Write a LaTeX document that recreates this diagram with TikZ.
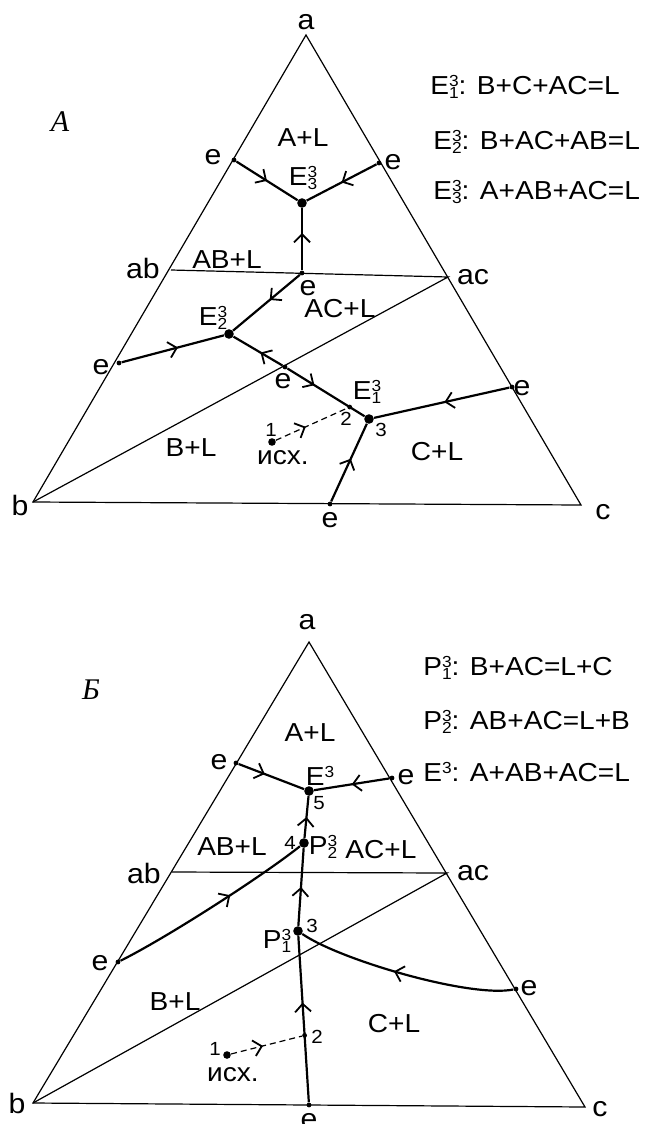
\documentclass[tikz,border=0pt]{standalone}
\usepackage{fontspec}
\setmainfont{Liberation Sans}[FakeStretch=1.08]
\newfontfamily\panelfont{Liberation Serif}
\usetikzlibrary{arrows.meta,decorations.markings,calc}
\tikzset{
  side/.style   ={line width=0.6pt},
  branch/.style ={line width=1.1pt},
  tie/.style    ={line width=0.6pt, dash pattern=on 3pt off 2pt},
  midarr/.style ={postaction={decorate}, decoration={markings,
      mark=at position #1 with {\arrow{Straight Barb[length=4pt,width=8pt,line width=0.9pt]}}}},
  midarr/.default=0.5,
  edot/.style   ={circle, fill, inner sep=0pt, minimum size=2.4pt},
  bigdot/.style ={circle, fill, inner sep=0pt, minimum size=4.8pt},
  lbl/.style    ={font=\fontsize{13}{14}\selectfont, inner sep=0pt},
  vlbl/.style   ={font=\fontsize{14}{15}\selectfont, inner sep=0pt},
  num/.style    ={font=\fontsize{9.5}{10}\selectfont, inner sep=0pt},
  leg/.style    ={font=\fontsize{13}{14}\selectfont, anchor=west, inner sep=0pt},
  panel/.style  ={font=\fontsize{15}{16}\selectfont\panelfont\itshape, inner sep=0pt},
}
\newcommand{\scrnum}{\fontsize{8}{9}\selectfont}
\newcommand{\ptsym}[3]{#1\rlap{\raisebox{4pt}{\scrnum #2}}\raisebox{-1.8pt}{\scrnum #3}}
\newcommand{\ptsup}[2]{#1\raisebox{4pt}{\scrnum #2}}

\begin{document}
\begin{tikzpicture}[x=0.5pt, y=-0.5pt]
  \useasboundingbox (0,0) rectangle (651,1124);

  % ---------- A: three eutectics ----------
  \coordinate (a1) at (306,35);
  \coordinate (b1) at (33,502);
  \coordinate (c1) at (581,505);
  \coordinate (ab1) at (171,270);
  \coordinate (ac1) at (448,277);
  \draw[side] (a1) -- (b1) -- (c1) -- cycle;
  \draw[side] (ab1) -- (ac1) -- (b1);

  \node[bigdot] (E3) at (302,203) {};
  \node[bigdot] (E2) at (229,334) {};
  \node[bigdot] (E1) at (369,419) {};
  \node[edot] (eA1) at (234,160) {};
  \node[edot] (eA2) at (379,163) {};
  \node[edot] (eA3) at (302,273) {};
  \node[edot] (eA4) at (119,363) {};
  \node[edot] (eA5) at (285,367) {};
  \node[edot] (eA6) at (512,387) {};
  \node[edot] (eA7) at (330,504) {};
  \node[edot] (ptA2) at ($(eA5)!0.77!(E1)$) {};
  \node[edot, minimum size=3.8pt] (ptA1) at (272,442) {};

  \draw[branch, midarr] (eA1) -- (E3);
  \draw[branch, midarr] (eA2) -- (E3);
  \draw[branch, midarr=0.6] (eA3) -- (E3);
  \draw[branch, midarr=0.45] (eA3) -- (E2);
  \draw[branch, midarr=0.55] (eA4) -- (E2);
  \draw[branch, midarr=0.45] (eA5) -- (E2);
  \draw[branch, midarr=0.35] (eA5) -- (E1);
  \draw[branch, midarr=0.48] (eA6) -- (E1);
  \draw[branch, midarr=0.55] (eA7) -- (E1);
  \draw[tie, midarr=0.42] (ptA1) -- (ptA2);

  \node[vlbl] (la1) at (306,22) {a};
  \node[vlbl] (lb1) at (20,505) {b};
  \node[vlbl] (lc1) at (603,512) {c};
  \node[vlbl] (lab1) at (143,268) {ab};
  \node[vlbl] (lac1) at (473,277) {ac};
  \node[vlbl] at (213,157) {e};
  \node[vlbl] at (393,162) {e};
  \node[vlbl] at (308,288) {e};
  \node[vlbl] at (101,367) {e};
  \node[vlbl] at (283,381) {e};
  \node[vlbl] at (522,388) {e};
  \node[vlbl] at (330,520) {e};

  \node[lbl] at (303,138) {A+L};
  \node[lbl] at (227,260) {AB+L};
  \node[lbl] at (340,309) {AC+L};
  \node[lbl] at (191,448) {B+L};
  \node[lbl] at (437,452) {C+L};

  \node[lbl] at (303,178) {\ptsym{E}{3}{3}};
  \node[lbl] at (213,318) {\ptsym{E}{3}{2}};
  \node[lbl] at (367,392) {\ptsym{E}{3}{1}};
  \node[num] at (271,430) {1};
  \node[num] at (346,419) {2};
  \node[num] at (381,430) {3};
  \node[lbl] at (283,458) {исх.};

  \node[leg] (legA1) at (430,87) {\ptsym{E}{3}{1}: B+C+AC=L};
  \node[leg] (legA2) at (433,142) {\ptsym{E}{3}{2}: B+AC+AB=L};
  \node[leg] (legA3) at (433,192) {\ptsym{E}{3}{3}: A+AB+AC=L};
  \node[panel] at (60,122) {A};

  % ---------- Б: two peritectics ----------
  \coordinate (a2) at (309,642);
  \coordinate (b2) at (33,1103);
  \coordinate (c2) at (585,1107);
  \coordinate (ab2) at (172,872);
  \coordinate (ac2) at (447,873);
  \draw[side] (a2) -- (b2) -- (c2) -- cycle;
  \draw[side] (ab2) -- (ac2) -- (b2);

  \node[bigdot] (Eb) at (309,791) {};
  \node[bigdot] (P2) at (304,843) {};
  \node[bigdot] (P1) at (298,931) {};
  \node[edot] (eB1) at (236,763) {};
  \node[edot] (eB2) at (392,778) {};
  \node[edot] (eB3) at (118,962) {};
  \node[edot] (eB4) at (516,989) {};
  \node[edot] (eB5) at (309,1105) {};
  \node[edot] (ptB2) at ($(eB5)!0.4!(P1)$) {};
  \node[edot, minimum size=3.8pt] (ptB1) at (227,1055) {};

  \draw[branch, midarr=0.4] (eB1) -- (Eb);
  \draw[branch, midarr] (eB2) -- (Eb);
  \draw[branch, midarr=0.5] (P2) -- (Eb);
  \draw[branch, midarr] (P1) -- (P2);
  \draw[branch, midarr=0.6] (eB5) -- (P1);
  \draw[branch, midarr=0.6] (eB3) .. controls (168,937) and (264,875) .. (P2);
  \draw[branch, midarr=0.55] (eB4) .. controls (470,998) and (340,960) .. (P1);
  \draw[tie, midarr=0.45] (ptB1) -- (ptB2);

  \node[vlbl] (la2) at (307,622) {a};
  \node[vlbl] (lb2) at (17,1103) {b};
  \node[vlbl] (lc2) at (600,1109) {c};
  \node[vlbl] (lab2) at (144,873) {ab};
  \node[vlbl] (lac2) at (473,873) {ac};
  \node[vlbl] at (219,762) {e};
  \node[vlbl] at (406,777) {e};
  \node[vlbl] at (100,963) {e};
  \node[vlbl] at (529,988) {e};
  \node[vlbl] at (309,1121) {e};

  \node[lbl] at (310,733) {A+L};
  \node[lbl] at (232,847) {AB+L};
  \node[lbl] at (381,850) {AC+L};
  \node[lbl] at (175,1002) {B+L};
  \node[lbl] at (394,1024) {C+L};

  \node[lbl] at (320,776) {\ptsup{E}{3}};
  \node[lbl] at (323,847) {\ptsym{P}{3}{2}};
  \node[lbl] at (277,941) {\ptsym{P}{3}{1}};
  \node[num] at (319,803) {5};
  \node[num] at (290,843) {4};
  \node[num] at (312,926) {3};
  \node[num] at (317,1037) {2};
  \node[num] at (215,1049) {1};
  \node[lbl] at (233,1075) {исх.};

  \node[leg] (legB1) at (423,668) {\ptsym{P}{3}{1}: B+AC=L+C};
  \node[leg] (legB2) at (423,722) {\ptsym{P}{3}{2}: AB+AC=L+B};
  \node[leg] (legB3) at (423,772) {\ptsup{E}{3}: A+AB+AC=L};
  \node[panel] at (91,690) {Б};
\end{tikzpicture}
\end{document}
